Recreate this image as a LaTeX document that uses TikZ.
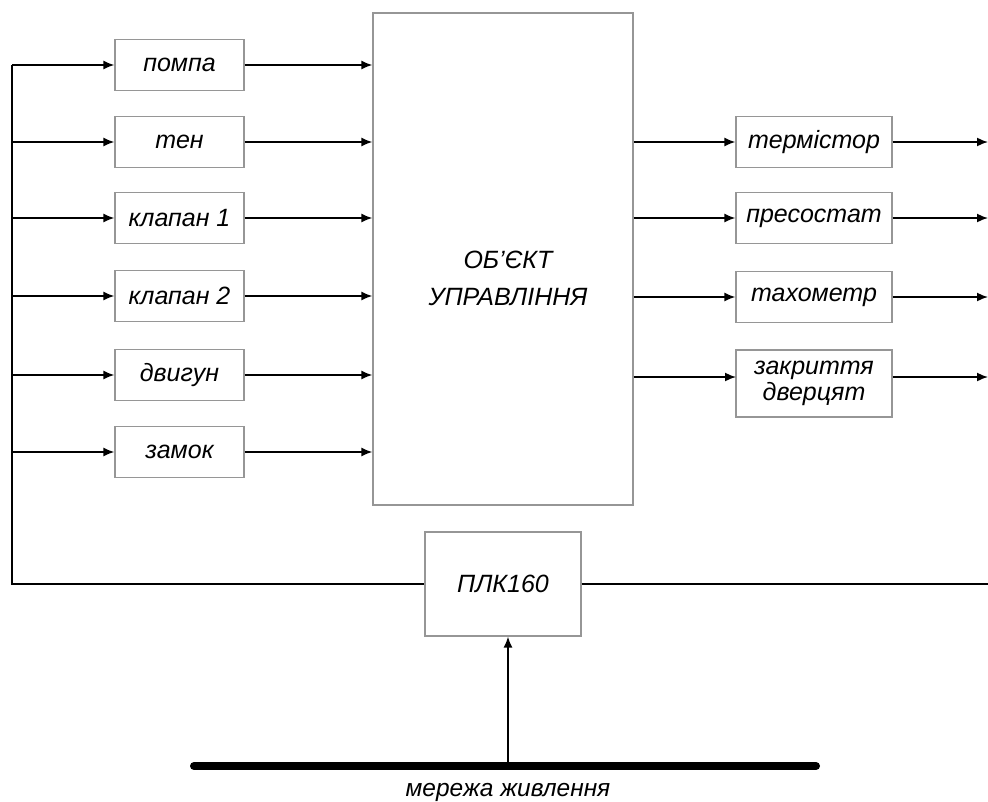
\documentclass[tikz,border=0pt]{standalone}
\usepackage{fontspec}
\setmainfont{Liberation Sans}
\usetikzlibrary{arrows.meta}
\definecolor{boxgray}{RGB}{150,150,150}
\begin{document}
\begin{tikzpicture}[x=1pt,y=-1pt,
  box/.style={draw=boxgray, line width=1.2pt, fill=white, align=center, inner sep=0pt,
    font=\itshape\fontsize{25}{25}\selectfont},
  lbox/.style={box, minimum width=129pt, minimum height=51pt},
  rbox/.style={box, minimum width=156pt, minimum height=51pt},
  sig/.style={line width=1.6pt, -{Latex[length=11pt,width=9pt]}},
  wire/.style={line width=1.6pt},
  lbl/.style={font=\itshape\fontsize{25}{25}\selectfont, align=center, inner sep=0pt}]
\useasboundingbox (0,0) rectangle (988,801);

% main object
\node[box, minimum width=260pt, minimum height=492pt] (main) at (503,259) {};
\node[lbl, font=\itshape\fontsize{25}{37}\selectfont] (maintext) at (508,278) {ОБ{\char"0027}ЄКТ\\УПРАВЛІННЯ};

% left boxes
\node[lbox] (b1) at (179.5,65) {помпа};
\node[lbox] (b2) at (179.5,142) {тен};
\node[lbox] (b3) at (179.5,218) {клапан 1};
\node[lbox] (b4) at (179.5,296) {клапан 2};
\node[lbox] (b5) at (179.5,375) {двигун};
\node[lbox] (b6) at (179.5,452) {замок};

% right boxes
\node[rbox] (r1) at (814,142) {термістор};
\node[rbox] (r2) at (814,218) {пресостат};
\node[rbox] (r3) at (814,297) {тахометр};
\node[rbox, minimum height=67pt, font=\itshape\fontsize{25}{26}\selectfont] (r4) at (814,383.5) {закриття\\дверцят};

% PLC
\node[box, minimum width=156pt, minimum height=104pt] (plc) at (503,584) {ПЛК160};

% left bus
\foreach \i/\y in {1/65,2/142,3/218,4/296,5/375,6/452}{
  \coordinate (l\i) at (12,\y);
  \draw[sig] (l\i) -- (b\i.west);
  \draw[sig] (b\i.east) -- (b\i.east -| main.west);
}
\draw[wire] (l1) |- (plc.west);
\coordinate (rend) at (988,584);
\draw[wire] (plc.east) -- (rend);

% right side
\foreach \i in {1,2,3}{
  \draw[sig] (main.east |- r\i.west) -- (r\i.west);
  \coordinate (o\i) at (988,0);
  \draw[sig] (r\i.east) -- (o\i |- r\i.east);
}
\coordinate (r4in) at (736,377);
\draw[sig] (main.east |- r4in) -- (r4in);
\coordinate (o4) at (988,377);
\draw[sig] (r4.east |- o4) -- (o4);

% power network
\coordinate (bar1) at (194,766);
\coordinate (bar2) at (816,766);
\draw[line width=8pt, line cap=round] (bar1) -- (bar2);
\coordinate (pa) at (508,766);
\draw[sig] (pa) -- (pa |- plc.south);
\node[lbl, font=\itshape\fontsize{24.5}{25}\selectfont] (net) at (508,792) {мережа живлення};
\end{tikzpicture}
\end{document}
